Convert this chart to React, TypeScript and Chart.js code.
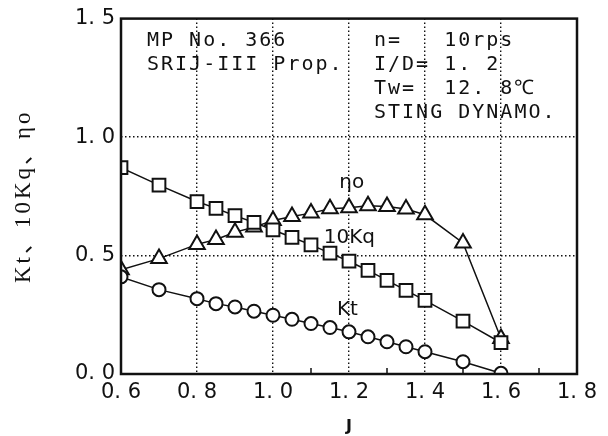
import React, { useEffect, useRef } from "react";
import { Chart, registerables } from "chart.js";

Chart.register(...registerables);

// ---- data ----
const advanceRatio = [0.6, 0.7, 0.8, 0.85, 0.9, 0.95, 1.0, 1.05, 1.1, 1.15, 1.2, 1.25, 1.3, 1.35, 1.4, 1.5, 1.6];
const ktValues = [0.41, 0.356, 0.318, 0.297, 0.283, 0.265, 0.248, 0.231, 0.213, 0.196, 0.178, 0.157, 0.136, 0.115, 0.094, 0.052, 0.003];
const kq10Values = [0.871, 0.797, 0.728, 0.699, 0.668, 0.64, 0.608, 0.577, 0.545, 0.51, 0.476, 0.437, 0.395, 0.353, 0.311, 0.223, 0.132];
const etaValues = [0.44, 0.487, 0.547, 0.568, 0.598, 0.62, 0.648, 0.665, 0.679, 0.697, 0.702, 0.71, 0.707, 0.696, 0.672, 0.553, 0.15];

const xTicks = [0.6, 0.8, 1.0, 1.2, 1.4, 1.6, 1.8];
const yTicks = [0.0, 0.5, 1.0, 1.5];
const xMinorTicks = [1.1, 1.3, 1.5, 1.7];

const infoLeft = ["MP No. 366", "SRIJ-III Prop."];
const infoRight = ["n=   10rps", "I/D= 1. 2", "Tw=  12. 8℃", "STING DYNAMO."];
const curveLabels = [
  { text: "ηo", j: 1.207, v: 0.807 },
  { text: "10Kq", j: 1.201, v: 0.576 },
  { text: "Kt", j: 1.196, v: 0.273 },
];
const xTitle = "J";
const yTitle = "Kt、10Kq、ηo";

const fmt = (v: number) => v.toFixed(1).replace(".", ". ");
const INK = "#111";

const overlayPlugin = {
  id: "overlay",
  afterDraw(chart: any) {
    const { ctx, chartArea: a, scales } = chart;
    ctx.save();
    // frame
    ctx.strokeStyle = INK;
    ctx.lineWidth = 2.5;
    ctx.strokeRect(a.left, a.top, a.right - a.left, a.bottom - a.top);
    // minor ticks (inside, upward)
    ctx.lineWidth = 1.5;
    xMinorTicks.forEach((v) => {
      const x = scales.x.getPixelForValue(v);
      ctx.beginPath();
      ctx.moveTo(x, a.bottom);
      ctx.lineTo(x, a.bottom - 6);
      ctx.stroke();
    });
    // info text
    ctx.fillStyle = INK;
    ctx.textBaseline = "middle";
    ctx.textAlign = "left";
    ctx.font = '20px "DejaVu Sans Mono"';
    ctx.letterSpacing = "2px";
    infoLeft.forEach((t, i) => ctx.fillText(t, a.left + 26, a.top + 22 + i * 24));
    infoRight.forEach((t, i) => ctx.fillText(t, a.left + 253, a.top + 22 + i * 24));
    ctx.letterSpacing = "0px";
    // curve labels
    ctx.font = '20px "DejaVu Sans"';
    ctx.textAlign = "center";
    curveLabels.forEach((l) => {
      ctx.fillText(l.text, scales.x.getPixelForValue(l.j), scales.y.getPixelForValue(l.v));
    });
    // y title
    ctx.save();
    ctx.translate(24, (a.top + a.bottom) / 2);
    ctx.rotate(-Math.PI / 2);
    ctx.font = '23px "Liberation Serif", "Noto Sans CJK JP"';
    ctx.letterSpacing = "3px";
    ctx.textAlign = "center";
    ctx.textBaseline = "middle";
    ctx.fillText(yTitle, 0, 0);
    ctx.restore();
    ctx.restore();
  },
};

export default function App() {
  const ref = useRef<HTMLCanvasElement | null>(null);
  useEffect(() => {
    if (!ref.current) return;
    const mk = (vals: number[]) => advanceRatio.map((x, i) => ({ x, y: vals[i] }));
    const common = {
      borderColor: INK,
      borderWidth: 1.5,
      pointBorderColor: INK,
      pointBackgroundColor: "#fff",
      pointBorderWidth: 2,
      tension: 0,
      fill: false,
    };
    const chart = new Chart(ref.current, {
      type: "line",
      data: {
        datasets: [
          { ...common, label: "Kt", data: mk(ktValues), pointStyle: "circle", pointRadius: 6.5 },
          { ...common, label: "10Kq", data: mk(kq10Values), pointStyle: "rect", pointRadius: 9 },
          { ...common, label: "ηo", data: mk(etaValues), pointStyle: "triangle", pointRadius: 9 },
        ],
      },
      options: {
        animation: false,
        responsive: false,
        events: [],
        layout: { padding: { left: 0, right: 31, top: 17, bottom: 0 } },
        plugins: { legend: { display: false }, tooltip: { enabled: false } },
        scales: {
          x: {
            type: "linear",
            min: 0.6,
            max: 1.8,
            afterBuildTicks: (s: any) => {
              s.ticks = xTicks.map((value) => ({ value }));
            },
            afterFit: (s: any) => {
              s.height = 62;
            },
            ticks: {
              color: INK,
              padding: 6,
              maxRotation: 0,
              autoSkip: false,
              font: { family: "DejaVu Sans", size: 21 },
              callback: (v: any) => fmt(Number(v)),
            },
            grid: {
              drawTicks: false,
              lineWidth: 1.4,
              color: (c: any) => (c.tick && (c.tick.value <= 0.6 || c.tick.value >= 1.8) ? "rgba(0,0,0,0)" : INK),
            },
            border: { display: false, dash: [1.5, 2.5] },
            title: {
              display: true,
              text: xTitle,
              color: INK,
              padding: { top: 0, bottom: 0 },
              font: { family: "DejaVu Sans", size: 16, weight: "bold" },
            },
          },
          y: {
            type: "linear",
            min: 0,
            max: 1.5,
            afterBuildTicks: (s: any) => {
              s.ticks = yTicks.map((value) => ({ value }));
            },
            afterFit: (s: any) => {
              s.width = 121;
            },
            ticks: {
              color: INK,
              padding: 6,
              font: { family: "DejaVu Sans", size: 21 },
              callback: (v: any) => fmt(Number(v)),
            },
            grid: {
              drawTicks: false,
              lineWidth: 1.4,
              color: (c: any) => (c.tick && (c.tick.value <= 0 || c.tick.value >= 1.5) ? "rgba(0,0,0,0)" : INK),
            },
            border: { display: false, dash: [1.5, 2.5] },
          },
        },
      },
      plugins: [overlayPlugin],
    } as any);
    return () => chart.destroy();
  }, []);
  return (
    <div style={{ position: "absolute", left: 0, top: 0, width: 608, height: 436, background: "#fff" }}>
      <canvas ref={ref} width={608} height={436} style={{ display: "block" }} />
    </div>
  );
}
